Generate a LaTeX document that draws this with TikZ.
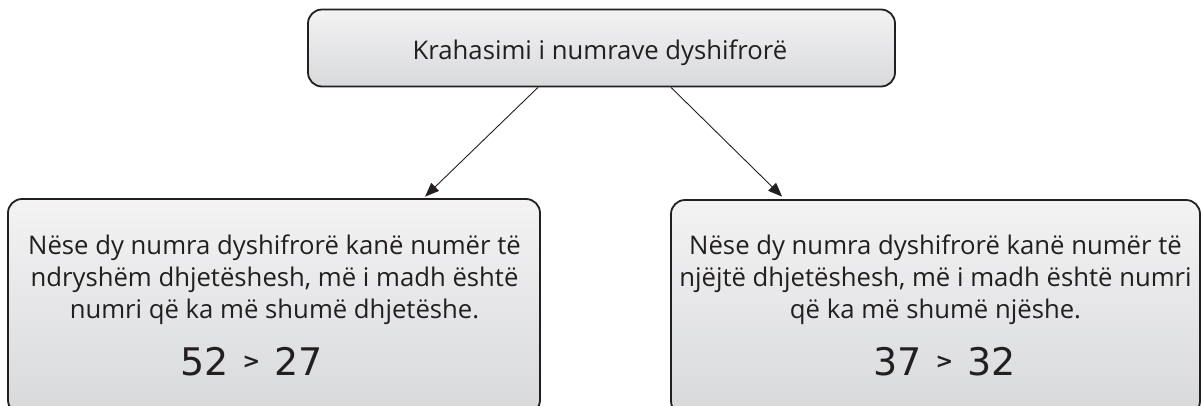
\documentclass[tikz,border=0pt]{standalone}
\usepackage{fontspec}
\setmainfont{Open Sans}
\newfontfamily\numfont{DejaVu Sans}
\usetikzlibrary{arrows.meta,calc}
\definecolor{boxtop}{HTML}{F3F3F4}
\definecolor{boxbot}{HTML}{D8D9DB}
\definecolor{ink}{HTML}{231F20}
\tikzset{
  box/.style={draw=ink, line width=1.8pt, rounded corners=14pt,
    top color=boxtop, bottom color=boxbot, inner sep=0pt},
  txt/.style={align=center, font=\fontsize{25.7}{32}\selectfont, text=ink, inner sep=0pt},
  nums/.style={font=\numfont\fontsize{38}{40}\selectfont, text=ink, inner sep=0pt},
  conn/.style={draw=ink, line width=0.9pt, -{Triangle[length=14pt,width=11pt]}}
}
\newcommand{\gtsym}{\hspace{14pt}\raisebox{6.5pt}{\fontsize{21}{21}\selectfont\bfseries >}\hspace{14pt}}
\begin{document}
\begin{tikzpicture}[x=1pt,y=-1pt]
\useasboundingbox (0,0) rectangle (1202,405);
\node[box, minimum width=587pt, minimum height=77pt] (T) at (601.5,48) {};
\node[txt, anchor=base] (Tt) at (600,59) {Krahasimi i numrave dyshifrorë};
\node[box, minimum width=532pt, minimum height=215pt] (L) at (274,306.5) {};
\node[box, minimum width=529pt, minimum height=215pt] (R) at (935.5,307.5) {};
\node[txt, anchor=base] (Lt) at (274.5,318) {Nëse dy numra dyshifrorë kanë numër të\\ndryshëm dhjetëshesh, më i madh është\\numri që ka më shumë dhjetëshe.};
\node[txt, anchor=base] (Rt) at (935.5,318) {Nëse dy numra dyshifrorë kanë numër të\\njëjtë dhjetëshesh, më i madh është numri\\që ka më shumë njëshe.};
\node[nums, anchor=base west] (Ln) at (180,375) {52\gtsym27};
\node[nums, anchor=base west] (Rn) at (873,375) {37\gtsym32};
\coordinate (a1) at ($(T.south)+(-63.5,0)$);
\coordinate (a2) at ($(T.south)+(69.5,0)$);
\coordinate (b1) at ($(L.north west)+(418,-1.5)$);
\coordinate (b2) at ($(R.north west)+(112,-2.5)$);
\draw[conn] (a1) -- (b1);
\draw[conn] (a2) -- (b2);
\end{tikzpicture}
\end{document}
